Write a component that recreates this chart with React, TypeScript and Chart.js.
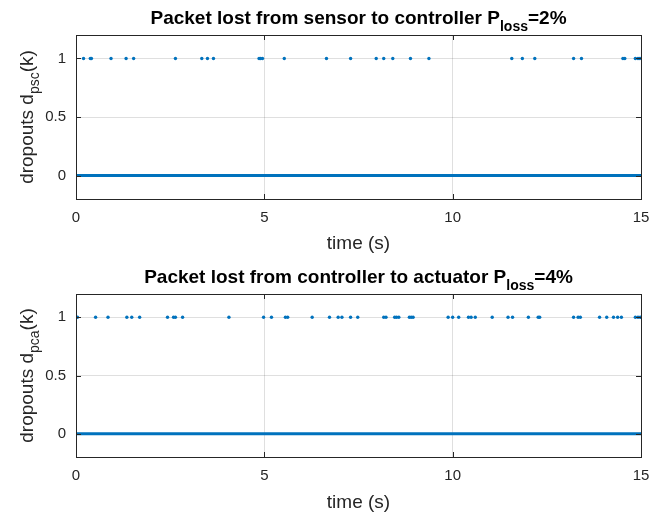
import React, { useEffect, useRef } from "react";
import { Chart, registerables } from "chart.js";
Chart.register(...registerables);

const xTickValues = [0, 5, 10, 15];
const yTickValues = [0, 0.5, 1];
const xRange = [0, 15];
const yRange = [-0.2, 1.2];

const sensorDropTimes = [
  0.2, 0.38, 0.41, 0.93, 1.33, 1.53, 2.64, 3.34, 3.49, 3.65, 4.86, 4.9, 4.95,
  5.53, 6.65, 7.29, 7.97, 8.17, 8.41, 8.88, 9.37, 11.57, 11.85, 12.18, 13.21,
  13.42, 14.52, 14.57, 14.85, 14.92, 14.97,
];

const actuatorDropTimes = [
  0.04, 0.52, 0.85, 1.35, 1.48, 1.69, 2.43, 2.59, 2.64, 2.83, 4.06, 4.98, 5.19,
  5.56, 5.62, 6.27, 6.73, 6.96, 7.06, 7.29, 7.48, 8.17, 8.23, 8.46, 8.51, 8.57,
  8.85, 8.9, 8.95, 9.88, 10.0, 10.16, 10.42, 10.49, 10.6, 11.05, 11.47, 11.59,
  12.01, 12.27, 12.31, 13.21, 13.33, 13.39, 13.9, 14.09, 14.27, 14.38, 14.48,
  14.85, 14.92, 14.98,
];

const topTitle = ["Packet lost from sensor to controller P", "loss", "=2%"];
const bottomTitle = ["Packet lost from controller to actuator P", "loss", "=4%"];
const topYLabel = ["dropouts d", "psc", "(k)"];
const bottomYLabel = ["dropouts d", "pca", "(k)"];
const xLabel = "time (s)";

const FONT = "'Liberation Sans', Arial, Helvetica, sans-serif";
const BLUE = "#0072BD";
const AXIS = "#262626";

function drawSubText(
  ctx: CanvasRenderingContext2D,
  parts: string[],
  cx: number,
  cy: number,
  mainFont: string,
  subFont: string,
  subDrop: number
) {
  ctx.font = mainFont;
  const w0 = ctx.measureText(parts[0]).width;
  const w2 = ctx.measureText(parts[2]).width;
  ctx.font = subFont;
  const w1 = ctx.measureText(parts[1]).width;
  const total = w0 + w1 + w2;
  let x = cx - total / 2;
  ctx.textAlign = "left";
  ctx.textBaseline = "alphabetic";
  ctx.font = mainFont;
  ctx.fillText(parts[0], x, cy);
  x += w0;
  ctx.font = subFont;
  ctx.fillText(parts[1], x, cy + subDrop);
  x += w1;
  ctx.font = mainFont;
  ctx.fillText(parts[2], x, cy);
}

function makeDecor(title: string[], yLabel: string[]) {
  return {
    id: "decor",
    afterDraw(chart: any) {
      const ctx = chart.ctx as CanvasRenderingContext2D;
      const { left, right, top, bottom } = chart.chartArea;
      const xs = chart.scales.x;
      const ys = chart.scales.y;
      ctx.save();
      ctx.strokeStyle = AXIS;
      ctx.lineWidth = 1;
      ctx.beginPath();
      for (const v of xTickValues) {
        const px = Math.round(xs.getPixelForValue(v)) + 0.5;
        ctx.moveTo(px, bottom);
        ctx.lineTo(px, bottom - 5);
        ctx.moveTo(px, top);
        ctx.lineTo(px, top + 5);
      }
      for (const v of yTickValues) {
        const py = Math.round(ys.getPixelForValue(v)) + 0.5;
        ctx.moveTo(left, py);
        ctx.lineTo(left + 5, py);
        ctx.moveTo(right, py);
        ctx.lineTo(right - 5, py);
      }
      ctx.stroke();
      ctx.strokeRect(Math.round(left) + 0.5, Math.round(top) + 0.5, Math.round(right - left), Math.round(bottom - top));
      ctx.fillStyle = "#000000";
      drawSubText(ctx, title, (left + right) / 2, 24, `bold 19px ${FONT}`, `bold 14px ${FONT}`, 7);
      ctx.fillStyle = AXIS;
      ctx.font = `19px ${FONT}`;
      ctx.textAlign = "center";
      ctx.textBaseline = "alphabetic";
      ctx.fillText(xLabel, (left + right) / 2, 249);
      ctx.translate(33, (top + bottom) / 2);
      ctx.rotate(-Math.PI / 2);
      drawSubText(ctx, yLabel, 0, 0, `19px ${FONT}`, `14px ${FONT}`, 6);
      ctx.restore();
    },
  };
}

function buildConfig(drops: number[], title: string[], yLabel: string[]): any {
  return {
    type: "scatter",
    data: {
      datasets: [
        {
          type: "line",
          data: [
            { x: xRange[0], y: 0 },
            { x: xRange[1], y: 0 },
          ],
          borderColor: BLUE,
          borderWidth: 3,
          pointRadius: 0,
        },
        {
          data: drops.map((t) => ({ x: t, y: 1 })),
          backgroundColor: BLUE,
          borderWidth: 0,
          pointRadius: 1.7,
        },
      ],
    },
    options: {
      responsive: false,
      animation: false,
      devicePixelRatio: 1,
      layout: { padding: { left: 0, right: 9, top: 35, bottom: 0 } },
      plugins: { legend: { display: false }, tooltip: { enabled: false } },
      scales: {
        x: {
          type: "linear",
          min: xRange[0],
          max: xRange[1],
          afterFit: (s: any) => {
            s.height = 60;
            s.paddingLeft = 0;
            s.paddingRight = 0;
          },
          afterBuildTicks: (s: any) => {
            s.ticks = xTickValues.map((v) => ({ value: v }));
          },
          grid: { color: "rgba(38,38,38,0.15)", drawTicks: false },
          border: { display: false },
          ticks: { color: AXIS, font: { family: FONT, size: 15 }, padding: 10, maxRotation: 0 },
        },
        y: {
          type: "linear",
          min: yRange[0],
          max: yRange[1],
          afterFit: (s: any) => {
            s.width = 76;
            s.paddingTop = 0;
            s.paddingBottom = 0;
          },
          afterBuildTicks: (s: any) => {
            s.ticks = yTickValues.map((v) => ({ value: v }));
          },
          grid: { color: "rgba(38,38,38,0.15)", drawTicks: false },
          border: { display: false },
          ticks: {
            color: AXIS,
            font: { family: FONT, size: 15 },
            padding: 10,
            callback: (v: number) => String(v),
          },
        },
      },
    },
    plugins: [makeDecor(title, yLabel)],
  };
}

function Panel(props: { drops: number[]; title: string[]; yLabel: string[]; height: number }) {
  const ref = useRef<HTMLCanvasElement | null>(null);
  useEffect(() => {
    if (!ref.current) return;
    const chart = new Chart(ref.current, buildConfig(props.drops, props.title, props.yLabel));
    return () => chart.destroy();
  }, []);
  return <canvas ref={ref} width={650} height={props.height} style={{ display: "block", width: 650, height: props.height }} />;
}

export default function App() {
  return (
    <div style={{ position: "absolute", left: 0, top: 0, width: 650, height: 517, background: "#ffffff" }}>
      <Panel drops={sensorDropTimes} title={topTitle} yLabel={topYLabel} height={259} />
      <Panel drops={actuatorDropTimes} title={bottomTitle} yLabel={bottomYLabel} height={258} />
    </div>
  );
}
